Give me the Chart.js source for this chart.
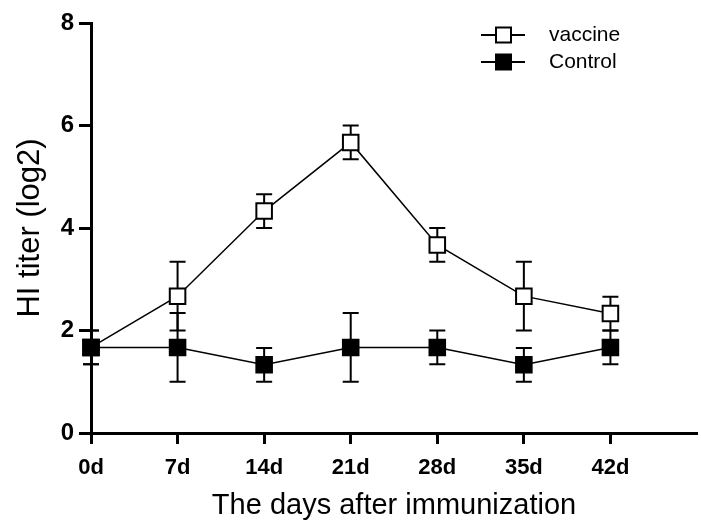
<!DOCTYPE html>
<html>
<head>
<meta charset="utf-8">
<script src="https://cdn.jsdelivr.net/npm/chart.js@4.4.0/dist/chart.umd.min.js"></script>
<style>
  html, body { margin: 0; padding: 0; background: #fff; }
  #wrap { width: 701px; height: 520px; }
</style>
</head>
<body>
<div id="wrap"><canvas id="myChart" width="701" height="520"></canvas></div>
<script>
// DATA
const days = [0, 7, 14, 21, 28, 35, 42];
const dayLabels = ['0d', '7d', '14d', '21d', '28d', '35d', '42d'];
const yTicks = [0, 2, 4, 6, 8];

const vaccine = [1.67, 2.67, 4.33, 5.67, 3.67, 2.67, 2.33];
const vaccineErr = [0.33, 0.67, 0.33, 0.33, 0.33, 0.67, 0.33];
const control = [1.67, 1.67, 1.33, 1.67, 1.67, 1.33, 1.67];
const controlErr = [0.33, 0.67, 0.33, 0.67, 0.33, 0.33, 0.33];

const seriesNames = ['vaccine', 'Control'];

const fontFam = '"Liberation Sans", Arial, sans-serif';

function toPoints(vals) {
    return days.map((d, i) => ({ x: d, y: vals[i] }));
}

// error bars drawn behind the markers
const errorBars = {
    id: 'errorBars',
    beforeDatasetsDraw(chart) {
        const ctx = chart.ctx;
        const xs = chart.scales.x;
        const ys = chart.scales.y;
        const sets = [[vaccine, vaccineErr], [control, controlErr]];
        ctx.save();
        ctx.strokeStyle = '#000';
        ctx.lineWidth = 2;
        sets.forEach(([vals, errs]) => {
            vals.forEach((v, i) => {
                const x = xs.getPixelForValue(days[i]);
                const yTop = ys.getPixelForValue(v + errs[i]);
                const yBot = ys.getPixelForValue(v - errs[i]);
                ctx.beginPath();
                ctx.moveTo(x, yTop); ctx.lineTo(x, yBot);
                ctx.moveTo(x - 8, yTop); ctx.lineTo(x + 8, yTop);
                ctx.moveTo(x - 8, yBot); ctx.lineTo(x + 8, yBot);
                ctx.stroke();
            });
        });
        ctx.restore();
    }
};

// legend: line through a square, like the plot
const boxLegend = {
    id: 'boxLegend',
    afterDraw(chart) {
        const ctx = chart.ctx;
        ctx.save();
        chart.data.datasets.forEach((ds, i) => {
            const y = 35 + i * 27;
            ctx.strokeStyle = '#000';
            ctx.lineWidth = 2;
            ctx.beginPath();
            ctx.moveTo(481, y); ctx.lineTo(525, y);
            ctx.stroke();
            ctx.fillStyle = ds.pointBackgroundColor;
            ctx.fillRect(496, y - 7.5, 15, 15);
            ctx.strokeRect(496, y - 7.5, 15, 15);
            ctx.fillStyle = '#000';
            ctx.font = '21px ' + fontFam;
            ctx.textBaseline = 'middle';
            ctx.fillText(ds.label, 549, y);
        });
        ctx.restore();
    }
};

const config = {
    type: 'line',
    data: {
        datasets: [{
            label: seriesNames[0],
            data: toPoints(vaccine),
            borderColor: '#000',
            borderWidth: 1.5,
            pointStyle: 'rect',
            pointRadius: 11,
            pointBorderWidth: 2,
            pointBackgroundColor: '#fff',
            pointBorderColor: '#000',
            tension: 0,
            clip: false,
            order: 2
        }, {
            label: seriesNames[1],
            data: toPoints(control),
            borderColor: '#000',
            borderWidth: 1.5,
            pointStyle: 'rect',
            pointRadius: 11,
            pointBorderWidth: 2,
            pointBackgroundColor: '#000',
            pointBorderColor: '#000',
            tension: 0,
            clip: false,
            order: 1
        }]
    },
    options: {
        responsive: false,
        animation: false,
        layout: { autoPadding: false, padding: { top: 23, right: 4, left: 0, bottom: 0 } },
        plugins: {
            legend: { display: false },
            tooltip: { enabled: false }
        },
        scales: {
            x: {
                type: 'linear',
                min: 0,
                max: 49,
                afterFit: (scale) => {
                    scale.height = 87;
                    scale.paddingLeft = 0;
                    scale.paddingRight = 0;
                },
                ticks: {
                    stepSize: 7,
                    callback: (v) => dayLabels[days.indexOf(v)] || '',
                    color: '#000',
                    font: { family: fontFam, size: 22, weight: 'bold' },
                    padding: 11,
                    maxRotation: 0
                },
                grid: {
                    display: true,
                    drawOnChartArea: false,
                    tickLength: 11,
                    tickWidth: 3,
                    tickColor: (c) => (c.tick && days.includes(c.tick.value)) ? '#000' : 'rgba(0,0,0,0)'
                },
                border: { display: true, color: '#000', width: 3 },
                title: {
                    display: true,
                    text: 'The days after immunization',
                    color: '#000',
                    font: { family: fontFam, size: 29, lineHeight: 1.0 },
                    padding: { top: 0, bottom: 0 }
                }
            },
            y: {
                min: 0,
                max: 8,
                afterBuildTicks: (scale) => {
                    scale.ticks = yTicks.map(v => ({ value: v }));
                },
                afterFit: (scale) => { scale.width = 91; },
                ticks: {
                    color: '#000',
                    font: { family: fontFam, size: 24, weight: 'bold' },
                    padding: 5
                },
                grid: { display: true, drawOnChartArea: false, tickLength: 12, tickWidth: 3, color: '#000' },
                border: { display: true, color: '#000', width: 3 },
                title: {
                    display: true,
                    text: 'HI titer (log2)',
                    color: '#000',
                    font: { family: fontFam, size: 31 },
                    padding: { top: 12, bottom: 0 }
                }
            }
        }
    },
    plugins: [errorBars, boxLegend]
};

const myChart = new Chart(document.getElementById('myChart'), config);
</script>
</body>
</html>
